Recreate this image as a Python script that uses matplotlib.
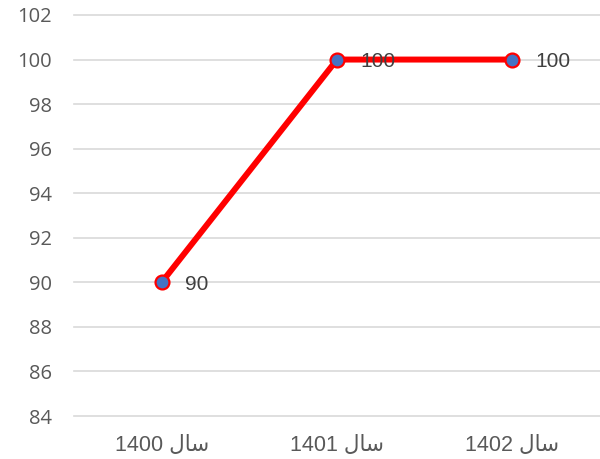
import matplotlib.pyplot as plt
import numpy as np

# year labels: "سال" written with Arabic presentation forms (visual order) so it joins correctly
years = ["1400", "1401", "1402"]
sal = "\uFEDD\uFE8E\uFEB3"
labels = [y + " " + sal for y in years]
values = [90, 100, 100]
yticks = np.arange(84, 103, 2)

fig = plt.figure(figsize=(6, 4.59), dpi=100)
ax = fig.add_axes([74 / 600, 43 / 459, 526 / 600, 401 / 459])

x = np.arange(len(values))
ax.plot(x, values, color="#FF0000", lw=4.3, solid_capstyle="round", zorder=3,
        marker="o", markersize=10, markerfacecolor="#4472C4",
        markeredgecolor="#FF0000", markeredgewidth=1.6)

for xi, v in zip(x, values):
    ax.annotate(str(v), (xi, v), xytext=(16.5, 0), textcoords="offset points",
                ha="left", va="center_baseline", fontsize=15, color="#404040",
                family=["Liberation Sans", "DejaVu Sans"], zorder=4)

ax.set_xlim(-0.5, 2.5)
ax.set_ylim(84, 102)
ax.set_yticks(yticks)
ax.set_yticklabels([str(t) for t in yticks], family="Open Sans", fontsize=14.5,
                   color="#595959")
ax.set_xticks(x)
ax.set_xticklabels(labels, family=["Liberation Sans", "DejaVu Sans"], fontsize=15.5,
                   color="#595959")
ax.tick_params(axis="y", length=0, pad=16)
ax.tick_params(axis="x", length=0, pad=14)
ax.grid(axis="y", color="#D9D9D9", lw=1.2)
for gl in ax.get_ygridlines():
    gl.set_clip_on(False)
ax.set_axisbelow(True)
for s in ax.spines.values():
    s.set_visible(False)

fig.savefig("out.png", dpi=100)
